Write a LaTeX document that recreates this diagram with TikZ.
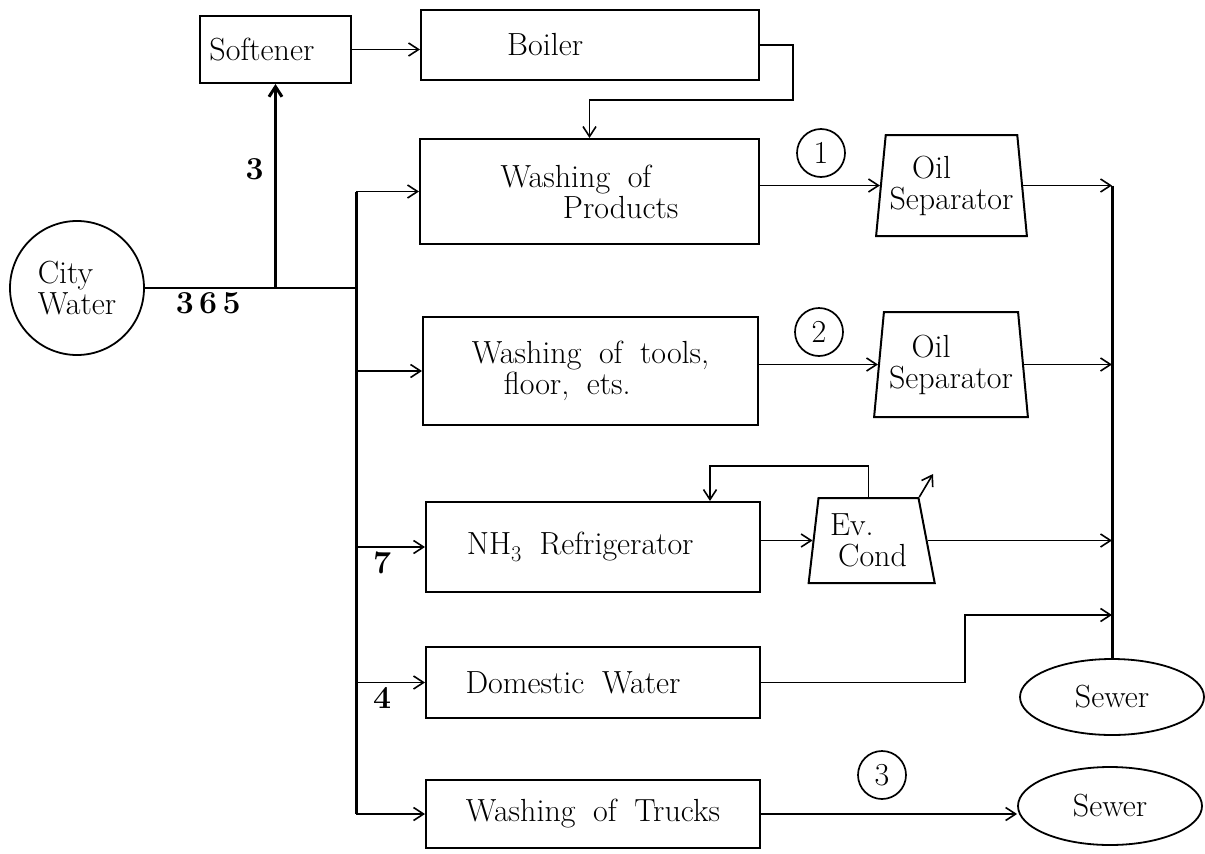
\documentclass[tikz,border=0pt]{standalone}
\usepackage{tikz}
\usetikzlibrary{arrows.meta,calc,positioning,shapes.geometric}
\newcommand{\wsp}{\hspace{0.55em}}

\begin{document}
\begin{tikzpicture}[x=1pt, y=-1pt,
  font=\fontsize{32}{31}\selectfont,
  box/.style 2 args={draw, line width=2pt, inner sep=0pt, align=center,
    minimum width=#1, minimum height=#2},
  source/.style={draw, circle, line width=1.8pt, minimum size=134pt, inner sep=0pt, align=left},
  oilsep/.style={draw, trapezium, trapezium stretches=true, line width=2pt,
    inner sep=1pt, align=left, minimum width=151pt, minimum height=101pt,
    trapezium left angle=81.5, trapezium right angle=81.5},
  sewer/.style={draw, ellipse, line width=1.8pt, minimum width=184pt, minimum height=76pt, inner sep=0pt},
  tag/.style={draw, circle, line width=1.7pt, minimum size=48pt, inner sep=0pt},
  link/.style={line width=1.7pt},
  bus/.style={line width=3pt},
  flow/.style={line width=1.6pt, -{Straight Barb[length=10pt,width=13pt]}}]

\useasboundingbox (0,0) rectangle (1205,854);

% supply side
\node[source] (cw) at (77,288) {City\\Water};
\node[box={151pt}{67pt}] (sft) at (275.5,49.5) {Softener\hspace*{0.85em}};
\node[box={338pt}{70pt}] (blr) at (590,45) {Boiler\hspace*{2.8em}};

% users
\node[box={339pt}{105pt}, align=left] (wp) at (589.5,191.5) {Washing\wsp of\\\hspace*{1.95em}Products};
\node[box={335pt}{108pt}, align=left] (wt) at (590.5,371) {Washing\wsp of\wsp tools,\\\hspace*{1em}floor,\wsp ets.};
\node[box={334pt}{90pt}] (nh) at (593,547) {NH\textsubscript{3}\wsp Refrigerator\hspace*{0.8em}};
\node[box={334pt}{71pt}] (dw) at (593,682.5) {Domestic\wsp Water\hspace*{1.25em}};
\node[box={334pt}{68pt}] (tr) at (593,814) {Washing\wsp of\wsp Trucks};

% treatment and outlets
\node[oilsep] (os1) at (951.5,185.5) {\hspace*{0.7em}Oil\\Separator};
\node[oilsep, minimum width=154pt, minimum height=105pt] (os2) at (951,364.5) {\hspace*{0.7em}Oil\\Separator};
\node[oilsep, minimum width=127pt, minimum height=85pt,
  trapezium left angle=82, trapezium right angle=77] (ev) at (868.5,540.5) {Ev.\\\hspace*{0.25em}Cond};
\node[sewer] (sw1) at (1112,697) {Sewer};
\node[sewer, minimum height=78pt] (sw2) at (1110,806) {Sewer};

\node[tag] (t1) at (821,153) {1};
\node[tag] (t2) at (819,332) {2};
\node[tag] (t3) at (882,775) {3};

\coordinate (bus) at (356,288);
\coordinate (bk) at (793,100);
\coordinate (fb) at (710,466);
\coordinate (vent) at (933,474);
\coordinate (dstep) at (965,615);

% city water distribution
\draw[link] (cw.east) -- node[below, pos=0.3]{\bfseries 3\,6\,5} (bus);
\draw[flow, bus] (sft.south |- cw.east) -- node[left=7pt, pos=0.58]{\bfseries 3} (sft.south);
\draw[flow] (sft.east) -- (sft.east -| blr.west);
\draw[flow] (blr.east) -| (bk) -| (wp.north);
\draw[bus] (wp.west -| bus) -- (tr.west -| bus);
\foreach \b in {wp,wt,tr}
  \draw[flow] (\b.west -| bus) -- (\b.west);
\draw[flow] (nh.west -| bus) -- node[below=1pt, pos=0.38]{\bfseries 7} (nh.west);
\draw[flow] (dw.west -| bus) -- node[below=1pt, pos=0.38]{\bfseries 4} (dw.west);

% waste water
\draw[flow] (os1.west -| wp.east) -- (os1.west);
\draw[flow] (os2.west -| wt.east) -- (os2.west);
\draw[flow] (ev.west -| nh.east) -- (ev.west);
\draw[flow] (ev.north) |- (fb) -- (fb |- nh.north);
\draw[flow] (ev.top right corner) -- (vent);
\draw[bus] (os1.east -| sw1.north) -- (sw1.north);
\draw[flow] (os1.east) -- (os1.east -| sw1.north);
\draw[flow] (os2.east) -- (os2.east -| sw1.north);
\draw[flow] (ev.east) -- (ev.east -| sw1.north);
\draw[flow] (dw.east) -| (dstep) -- (dstep -| sw1.north);
\draw[flow] (tr.east) -- (tr.east -| sw2.west);

\end{tikzpicture}
\end{document}
